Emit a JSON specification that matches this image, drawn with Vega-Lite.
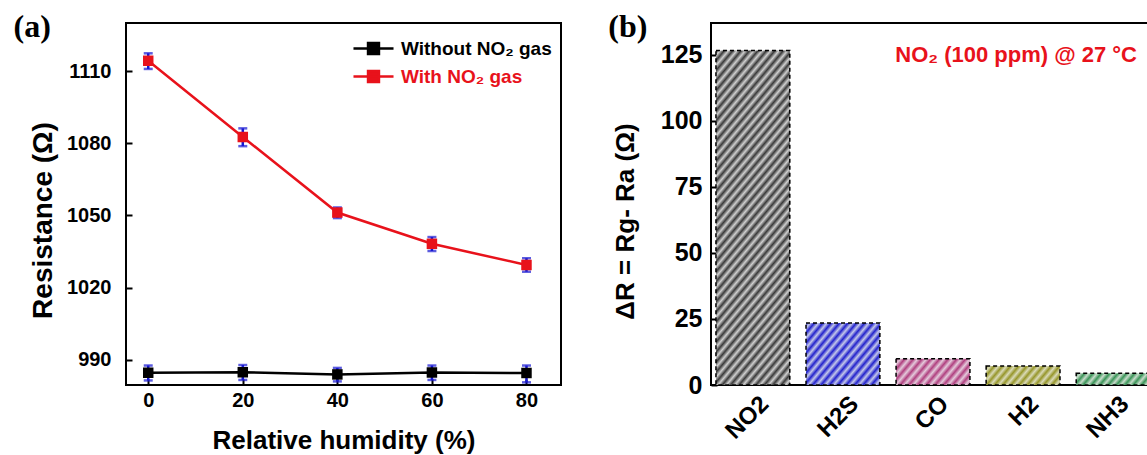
{
  "$schema": "https://vega.github.io/schema/vega-lite/v6.json",
  "background": "white",
  "padding": {"left": 12, "top": 10, "right": 0, "bottom": 0},
  "spacing": 45,
  "config": {
    "view": {"stroke": "#000000", "strokeWidth": 2},
    "font": "Liberation Sans",
    "axis": {
      "labelFont": "Liberation Sans", "labelFontWeight": "bold", "labelColor": "#000000",
      "titleFont": "Liberation Sans", "titleFontWeight": "bold", "titleColor": "#000000",
      "domain": false, "grid": false, "tickColor": "#000000", "tickWidth": 2, "tickSize": -6
    }
  },
  "hconcat": [
    {
      "width": 435,
      "height": 362,
      "title": {"text": "(a)", "anchor": "start", "frame": "bounds", "font": "Liberation Serif", "fontSize": 32, "fontWeight": "bold", "color": "#000000", "baseline": "bottom", "dx": -16, "dy": 53, "offset": 0},
      "data": {"values": [
        {"rh": 0, "series": "Without NO₂ gas", "r": 984.6, "lo": 981.4, "hi": 987.6},
        {"rh": 20, "series": "Without NO₂ gas", "r": 984.8, "lo": 981.6, "hi": 987.8},
        {"rh": 40, "series": "Without NO₂ gas", "r": 983.9, "lo": 981.0, "hi": 986.6},
        {"rh": 60, "series": "Without NO₂ gas", "r": 984.7, "lo": 981.6, "hi": 987.6},
        {"rh": 80, "series": "Without NO₂ gas", "r": 984.5, "lo": 980.6, "hi": 987.6},
        {"rh": 0, "series": "With NO₂ gas", "r": 1114.3, "lo": 1110.9, "hi": 1117.4},
        {"rh": 20, "series": "With NO₂ gas", "r": 1082.6, "lo": 1078.8, "hi": 1086.2},
        {"rh": 40, "series": "With NO₂ gas", "r": 1051.2, "lo": 1048.9, "hi": 1053.3},
        {"rh": 60, "series": "With NO₂ gas", "r": 1038.2, "lo": 1035.2, "hi": 1041.0},
        {"rh": 80, "series": "With NO₂ gas", "r": 1029.4, "lo": 1026.6, "hi": 1032.2}
      ]},
      "encoding": {
        "x": {"field": "rh", "type": "quantitative",
          "scale": {"domain": [-4.7, 87.3], "nice": false, "zero": false},
          "axis": {"values": [0, 20, 40, 60, 80], "title": "Relative humidity (%)", "labelFontSize": 20, "titleFontSize": 26, "labelPadding": 11, "titlePadding": 17}}
      },
      "layer": [
        {
          "mark": {"type": "line", "strokeWidth": 2.5},
          "encoding": {
            "y": {"field": "r", "type": "quantitative",
              "scale": {"domain": [979.5, 1130], "nice": false, "zero": false},
              "axis": {"values": [990, 1020, 1050, 1080, 1110], "format": "d", "title": "Resistance (Ω)", "labelFontSize": 20, "titleFontSize": 28, "labelPadding": 21, "titlePadding": 9, "titleY": 197}},
            "color": {"field": "series", "type": "nominal",
              "scale": {"domain": ["Without NO₂ gas", "With NO₂ gas"], "range": ["#000000", "#e8121b"]},
              "legend": {
                "title": null, "orient": "none", "legendX": 232, "legendY": 10, "padding": 0,
                "labelFont": "Liberation Sans", "labelFontWeight": "bold", "labelFontSize": 19,
                "symbolType": "M-1.43,0H1.43M-0.39,-0.39H0.39V0.39H-0.39Z", "symbolSize": 784, "symbolStrokeWidth": 2.5,
                "labelOffset": 12, "rowPadding": 2,
                "encode": {
                  "labels": {"update": {"fill": {"signal": "datum.value === 'With NO₂ gas' ? '#e8121b' : '#000000'"}}},
                  "symbols": {"update": {
                    "fill": {"signal": "datum.value === 'With NO₂ gas' ? '#e8121b' : '#000000'"},
                    "stroke": {"signal": "datum.value === 'With NO₂ gas' ? '#e8121b' : '#000000'"},
                    "opacity": {"value": 1}
                  }}
                }
              }}
          }
        },
        {
          "mark": {"type": "errorbar", "color": "#1717d2", "ticks": {"size": 9, "thickness": 2.5, "color": "#1717d2"}, "rule": {"strokeWidth": 2.5, "color": "#1717d2"}},
          "encoding": {
            "y": {"field": "lo", "type": "quantitative", "title": "Resistance (Ω)", "scale": {"domain": [979.5, 1130], "nice": false, "zero": false}},
            "y2": {"field": "hi"}
          }
        },
        {
          "mark": {"type": "point", "shape": "square", "filled": true, "size": 110, "opacity": 1},
          "encoding": {
            "y": {"field": "r", "type": "quantitative", "title": "Resistance (Ω)", "scale": {"domain": [979.5, 1130], "nice": false, "zero": false}},
            "color": {"field": "series", "type": "nominal",
              "scale": {"domain": ["Without NO₂ gas", "With NO₂ gas"], "range": ["#000000", "#e8121b"]}}
          }
        }
      ]
    },
    {
      "width": 444,
      "height": 362,
      "title": {"text": "(b)", "anchor": "start", "frame": "bounds", "font": "Liberation Serif", "fontSize": 32, "fontWeight": "bold", "color": "#000000", "baseline": "bottom", "dx": -4, "dy": 53, "offset": 0},
      "layer": [
        {
          "data": {"values": [
            {"gas": "NO2", "dr": 126.6},
            {"gas": "H2S", "dr": 23.5},
            {"gas": "CO", "dr": 9.9},
            {"gas": "H2", "dr": 7.2},
            {"gas": "NH3", "dr": 4.4}
          ]},
          "mark": {"type": "bar", "stroke": "#000000", "strokeWidth": 1.5, "strokeDash": [4, 3]},
          "encoding": {
            "x": {"field": "gas", "type": "nominal", "sort": null,
              "scale": {"paddingInner": 0.18, "paddingOuter": 0.055},
              "axis": {"title": null, "labelAngle": -45, "labelAlign": "right", "labelBaseline": "middle", "labelFontSize": 24, "ticks": false, "labelPadding": 15, "labelOffset": 12}},
            "y": {"field": "dr", "type": "quantitative",
              "scale": {"domain": [0, 137], "nice": false},
              "axis": {"values": [0, 25, 50, 75, 100, 125], "title": "ΔR = Rg- Ra (Ω)", "labelFontSize": 25, "titleFontSize": 26, "labelPadding": 15, "titlePadding": 22, "titleY": 198}},
            "fill": {
              "condition": [
                {"test": "datum.gas === 'NO2'", "value": {"gradient": "linear", "x1": 0, "y1": 0, "x2": 0.311, "y2": 1.181, "stops": [
                  {"offset": 0, "color": "#3a3a3a"}, {"offset": 0.0119, "color": "#d0d0d0"}, {"offset": 0.0238, "color": "#3a3a3a"}, {"offset": 0.0357, "color": "#d0d0d0"},
                  {"offset": 0.0476, "color": "#3a3a3a"}, {"offset": 0.0595, "color": "#d0d0d0"}, {"offset": 0.0714, "color": "#3a3a3a"}, {"offset": 0.0833, "color": "#d0d0d0"},
                  {"offset": 0.0952, "color": "#3a3a3a"}, {"offset": 0.1071, "color": "#d0d0d0"}, {"offset": 0.119, "color": "#3a3a3a"}, {"offset": 0.131, "color": "#d0d0d0"},
                  {"offset": 0.1429, "color": "#3a3a3a"}, {"offset": 0.1548, "color": "#d0d0d0"}, {"offset": 0.1667, "color": "#3a3a3a"}, {"offset": 0.1786, "color": "#d0d0d0"},
                  {"offset": 0.1905, "color": "#3a3a3a"}, {"offset": 0.2024, "color": "#d0d0d0"}, {"offset": 0.2143, "color": "#3a3a3a"}, {"offset": 0.2262, "color": "#d0d0d0"},
                  {"offset": 0.2381, "color": "#3a3a3a"}, {"offset": 0.25, "color": "#d0d0d0"}, {"offset": 0.2619, "color": "#3a3a3a"}, {"offset": 0.2738, "color": "#d0d0d0"},
                  {"offset": 0.2857, "color": "#3a3a3a"}, {"offset": 0.2976, "color": "#d0d0d0"}, {"offset": 0.3095, "color": "#3a3a3a"}, {"offset": 0.3214, "color": "#d0d0d0"},
                  {"offset": 0.3333, "color": "#3a3a3a"}, {"offset": 0.3452, "color": "#d0d0d0"}, {"offset": 0.3571, "color": "#3a3a3a"}, {"offset": 0.369, "color": "#d0d0d0"},
                  {"offset": 0.381, "color": "#3a3a3a"}, {"offset": 0.3929, "color": "#d0d0d0"}, {"offset": 0.4048, "color": "#3a3a3a"}, {"offset": 0.4167, "color": "#d0d0d0"},
                  {"offset": 0.4286, "color": "#3a3a3a"}, {"offset": 0.4405, "color": "#d0d0d0"}, {"offset": 0.4524, "color": "#3a3a3a"}, {"offset": 0.4643, "color": "#d0d0d0"},
                  {"offset": 0.4762, "color": "#3a3a3a"}, {"offset": 0.4881, "color": "#d0d0d0"}, {"offset": 0.5, "color": "#3a3a3a"}, {"offset": 0.5119, "color": "#d0d0d0"},
                  {"offset": 0.5238, "color": "#3a3a3a"}, {"offset": 0.5357, "color": "#d0d0d0"}, {"offset": 0.5476, "color": "#3a3a3a"}, {"offset": 0.5595, "color": "#d0d0d0"},
                  {"offset": 0.5714, "color": "#3a3a3a"}, {"offset": 0.5833, "color": "#d0d0d0"}, {"offset": 0.5952, "color": "#3a3a3a"}, {"offset": 0.6071, "color": "#d0d0d0"},
                  {"offset": 0.619, "color": "#3a3a3a"}, {"offset": 0.631, "color": "#d0d0d0"}, {"offset": 0.6429, "color": "#3a3a3a"}, {"offset": 0.6548, "color": "#d0d0d0"},
                  {"offset": 0.6667, "color": "#3a3a3a"}, {"offset": 0.6786, "color": "#d0d0d0"}, {"offset": 0.6905, "color": "#3a3a3a"}, {"offset": 0.7024, "color": "#d0d0d0"},
                  {"offset": 0.7143, "color": "#3a3a3a"}, {"offset": 0.7262, "color": "#d0d0d0"}, {"offset": 0.7381, "color": "#3a3a3a"}, {"offset": 0.75, "color": "#d0d0d0"},
                  {"offset": 0.7619, "color": "#3a3a3a"}, {"offset": 0.7738, "color": "#d0d0d0"}, {"offset": 0.7857, "color": "#3a3a3a"}, {"offset": 0.7976, "color": "#d0d0d0"},
                  {"offset": 0.8095, "color": "#3a3a3a"}, {"offset": 0.8214, "color": "#d0d0d0"}, {"offset": 0.8333, "color": "#3a3a3a"}, {"offset": 0.8452, "color": "#d0d0d0"},
                  {"offset": 0.8571, "color": "#3a3a3a"}, {"offset": 0.869, "color": "#d0d0d0"}, {"offset": 0.881, "color": "#3a3a3a"}, {"offset": 0.8929, "color": "#d0d0d0"},
                  {"offset": 0.9048, "color": "#3a3a3a"}, {"offset": 0.9167, "color": "#d0d0d0"}, {"offset": 0.9286, "color": "#3a3a3a"}, {"offset": 0.9405, "color": "#d0d0d0"},
                  {"offset": 0.9524, "color": "#3a3a3a"}, {"offset": 0.9643, "color": "#d0d0d0"}, {"offset": 0.9762, "color": "#3a3a3a"}, {"offset": 0.9881, "color": "#d0d0d0"},
                  {"offset": 1, "color": "#3a3a3a"}
                ]}},
                {"test": "datum.gas === 'H2S'", "value": {"gradient": "linear", "x1": 0, "y1": 0, "x2": 1.139, "y2": 0.804, "stops": [
                  {"offset": 0, "color": "#2222cc"}, {"offset": 0.0333, "color": "#c4c8ea"}, {"offset": 0.0667, "color": "#2222cc"}, {"offset": 0.1, "color": "#c4c8ea"},
                  {"offset": 0.1333, "color": "#2222cc"}, {"offset": 0.1667, "color": "#c4c8ea"}, {"offset": 0.2, "color": "#2222cc"}, {"offset": 0.2333, "color": "#c4c8ea"},
                  {"offset": 0.2667, "color": "#2222cc"}, {"offset": 0.3, "color": "#c4c8ea"}, {"offset": 0.3333, "color": "#2222cc"}, {"offset": 0.3667, "color": "#c4c8ea"},
                  {"offset": 0.4, "color": "#2222cc"}, {"offset": 0.4333, "color": "#c4c8ea"}, {"offset": 0.4667, "color": "#2222cc"}, {"offset": 0.5, "color": "#c4c8ea"},
                  {"offset": 0.5333, "color": "#2222cc"}, {"offset": 0.5667, "color": "#c4c8ea"}, {"offset": 0.6, "color": "#2222cc"}, {"offset": 0.6333, "color": "#c4c8ea"},
                  {"offset": 0.6667, "color": "#2222cc"}, {"offset": 0.7, "color": "#c4c8ea"}, {"offset": 0.7333, "color": "#2222cc"}, {"offset": 0.7667, "color": "#c4c8ea"},
                  {"offset": 0.8, "color": "#2222cc"}, {"offset": 0.8333, "color": "#c4c8ea"}, {"offset": 0.8667, "color": "#2222cc"}, {"offset": 0.9, "color": "#c4c8ea"},
                  {"offset": 0.9333, "color": "#2222cc"}, {"offset": 0.9667, "color": "#c4c8ea"}, {"offset": 1, "color": "#2222cc"}
                ]}},
                {"test": "datum.gas === 'CO'", "value": {"gradient": "linear", "x1": 0, "y1": 0, "x2": 1.192, "y2": 0.355, "stops": [
                  {"offset": 0, "color": "#b04080"}, {"offset": 0.0455, "color": "#e4cadb"}, {"offset": 0.0909, "color": "#b04080"}, {"offset": 0.1364, "color": "#e4cadb"},
                  {"offset": 0.1818, "color": "#b04080"}, {"offset": 0.2273, "color": "#e4cadb"}, {"offset": 0.2727, "color": "#b04080"}, {"offset": 0.3182, "color": "#e4cadb"},
                  {"offset": 0.3636, "color": "#b04080"}, {"offset": 0.4091, "color": "#e4cadb"}, {"offset": 0.4545, "color": "#b04080"}, {"offset": 0.5, "color": "#e4cadb"},
                  {"offset": 0.5455, "color": "#b04080"}, {"offset": 0.5909, "color": "#e4cadb"}, {"offset": 0.6364, "color": "#b04080"}, {"offset": 0.6818, "color": "#e4cadb"},
                  {"offset": 0.7273, "color": "#b04080"}, {"offset": 0.7727, "color": "#e4cadb"}, {"offset": 0.8182, "color": "#b04080"}, {"offset": 0.8636, "color": "#e4cadb"},
                  {"offset": 0.9091, "color": "#b04080"}, {"offset": 0.9545, "color": "#e4cadb"}, {"offset": 1, "color": "#b04080"}
                ]}},
                {"test": "datum.gas === 'H2'", "value": {"gradient": "linear", "x1": 0, "y1": 0, "x2": 1.162, "y2": 0.251, "stops": [
                  {"offset": 0, "color": "#96962a"}, {"offset": 0.0455, "color": "#dadab8"}, {"offset": 0.0909, "color": "#96962a"}, {"offset": 0.1364, "color": "#dadab8"},
                  {"offset": 0.1818, "color": "#96962a"}, {"offset": 0.2273, "color": "#dadab8"}, {"offset": 0.2727, "color": "#96962a"}, {"offset": 0.3182, "color": "#dadab8"},
                  {"offset": 0.3636, "color": "#96962a"}, {"offset": 0.4091, "color": "#dadab8"}, {"offset": 0.4545, "color": "#96962a"}, {"offset": 0.5, "color": "#dadab8"},
                  {"offset": 0.5455, "color": "#96962a"}, {"offset": 0.5909, "color": "#dadab8"}, {"offset": 0.6364, "color": "#96962a"}, {"offset": 0.6818, "color": "#dadab8"},
                  {"offset": 0.7273, "color": "#96962a"}, {"offset": 0.7727, "color": "#dadab8"}, {"offset": 0.8182, "color": "#96962a"}, {"offset": 0.8636, "color": "#dadab8"},
                  {"offset": 0.9091, "color": "#96962a"}, {"offset": 0.9545, "color": "#dadab8"}, {"offset": 1, "color": "#96962a"}
                ]}},
                {"test": "datum.gas === 'NH3'", "value": {"gradient": "linear", "x1": 0, "y1": 0, "x2": 1.112, "y2": 0.147, "stops": [
                  {"offset": 0, "color": "#3a9458"}, {"offset": 0.05, "color": "#c8dccb"}, {"offset": 0.1, "color": "#3a9458"}, {"offset": 0.15, "color": "#c8dccb"},
                  {"offset": 0.2, "color": "#3a9458"}, {"offset": 0.25, "color": "#c8dccb"}, {"offset": 0.3, "color": "#3a9458"}, {"offset": 0.35, "color": "#c8dccb"},
                  {"offset": 0.4, "color": "#3a9458"}, {"offset": 0.45, "color": "#c8dccb"}, {"offset": 0.5, "color": "#3a9458"}, {"offset": 0.55, "color": "#c8dccb"},
                  {"offset": 0.6, "color": "#3a9458"}, {"offset": 0.65, "color": "#c8dccb"}, {"offset": 0.7, "color": "#3a9458"}, {"offset": 0.75, "color": "#c8dccb"},
                  {"offset": 0.8, "color": "#3a9458"}, {"offset": 0.85, "color": "#c8dccb"}, {"offset": 0.9, "color": "#3a9458"}, {"offset": 0.95, "color": "#c8dccb"},
                  {"offset": 1, "color": "#3a9458"}
                ]}}
              ],
              "value": "#999999"
            }
          }
        },
        {
          "data": {"values": [{"note": "NO₂ (100 ppm)  @ 27 °C", "level": 125}]},
          "mark": {"type": "text", "color": "#e8121b", "font": "Liberation Sans", "fontSize": 22, "fontWeight": "bold", "align": "right", "baseline": "middle", "dx": -18},
          "encoding": {
            "x": {"value": "width"},
            "y": {"field": "level", "type": "quantitative"},
            "text": {"field": "note"}
          }
        }
      ]
    }
  ]
}
